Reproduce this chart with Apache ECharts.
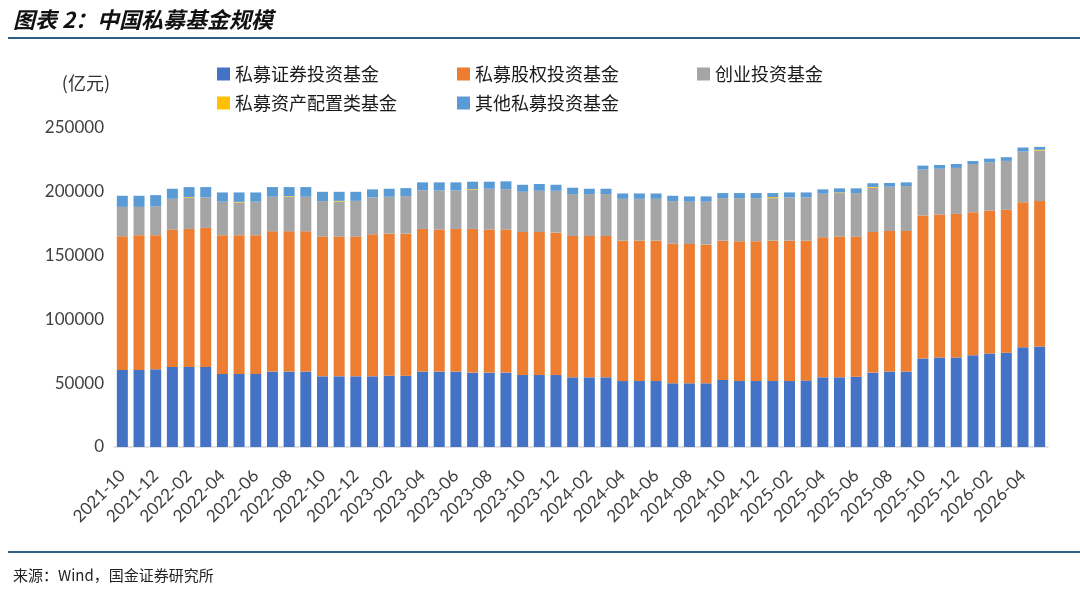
<!DOCTYPE html>
<html>
<head>
<meta charset="utf-8">
<script src="https://cdn.jsdelivr.net/npm/echarts@6/dist/echarts.min.js"></script>
<style>
html,body{margin:0;padding:0;background:#fff;}
#chart{width:1080px;height:593px;}
</style>
</head>
<body>
<div id="chart"></div>
<script>
// Months 2021-10 .. 2026-05
const months = [
 '2021-10','2021-11','2021-12','2022-01','2022-02','2022-03','2022-04','2022-05','2022-06','2022-07','2022-08','2022-09',
 '2022-10','2022-11','2022-12','2023-01','2023-02','2023-03','2023-04','2023-05','2023-06','2023-07','2023-08','2023-09',
 '2023-10','2023-11','2023-12','2024-01','2024-02','2024-03','2024-04','2024-05','2024-06','2024-07','2024-08','2024-09',
 '2024-10','2024-11','2024-12','2025-01','2025-02','2025-03','2025-04','2025-05','2025-06','2025-07','2025-08','2025-09',
 '2025-10','2025-11','2025-12','2026-01','2026-02','2026-03','2026-04','2026-05'
];
const seriesNames = ['私募证券投资基金','私募股权投资基金','创业投资基金','私募资产配置类基金','其他私募投资基金'];
const securities = [60400,60400,60900,62700,62700,62700,57200,57200,57200,59100,59100,59100,
 55400,55400,55400,55400,55900,55900,59100,59100,59100,58300,58300,58300,
 56400,56400,56400,54600,54600,54600,51700,51700,51700,49900,49900,49900,
 52500,51700,51700,51700,51700,52200,54600,54600,55100,58300,59100,59100,
 69300,70100,70100,71900,73200,73800,78200,78800];
const equity = [104700,105600,105100,107700,108200,109000,108800,108800,108800,109900,109900,109900,
 109500,109500,109500,111300,111300,111300,111800,111300,111800,112600,112100,112100,
 112100,112100,111600,110800,110800,110800,110000,110000,110000,109400,109200,108700,
 109200,109500,109500,110000,110000,109500,109700,110300,109800,110200,110200,110200,
 112100,112100,112600,112100,112100,112100,113700,113900];
const venture = [23100,22200,22700,24100,24400,23900,26200,25600,26200,27100,27100,27100,
 27800,27500,28000,28900,28900,29400,30200,30700,30200,30700,32000,31700,
 31500,32300,32800,32800,32800,32800,32800,32800,32800,33400,33100,33600,
 33300,33800,33800,33300,33900,33900,34200,34100,34100,34700,34700,35200,
 36000,35900,36000,37800,37600,38300,39600,39600];
const assetAlloc = [0,0,0,0,500,0,0,500,0,0,500,0,
 0,500,0,0,0,0,0,0,0,500,0,0,
 0,0,0,0,0,0,0,0,0,0,0,0,
 0,0,0,800,0,0,0,500,0,600,0,0,
 0,0,0,0,0,0,0,600];
const others = [8700,8700,8700,7900,7900,8100,7300,7400,7300,7600,7100,7600,
 7300,7100,7100,6300,6300,6300,6300,6300,6300,5800,5500,6100,
 5500,5300,4700,5000,4200,4200,4200,4200,4200,4200,4200,4200,
 4000,4000,4000,3200,3900,3900,3400,3200,3700,2900,2900,2900,
 3100,2900,3100,2300,3100,2900,3200,2300];
const yTicks = [0,50000,100000,150000,200000,250000];
const colors = ['#4472C4','#ED7D31','#A5A5A5','#FFC000','#5B9BD5'];
const dataSets = [securities, equity, venture, assetAlloc, others];

const chart = echarts.init(document.getElementById('chart'), null, {renderer:'canvas'});
const legendText = {fontSize:18, color:'#1a1a1a', fontFamily:'"Noto Sans CJK SC"'};
const option = {
  animation:false,
  backgroundColor:'#fff',
  title:[
    {text:'图表 2：中国私募基金规模', left:8, top:4,
     textStyle:{fontSize:22, fontWeight:'bold', fontStyle:'italic', color:'#111', fontFamily:'"Noto Sans CJK SC"'}},
    {text:'来源：Wind，国金证券研究所', left:8, top:563,
     textStyle:{fontSize:15, fontWeight:'normal', color:'#222', fontFamily:'"Noto Sans CJK SC"'}}
  ],
  graphic:[
    {type:'line', shape:{x1:8,y1:38,x2:1080,y2:38}, style:{stroke:'#2E5E86', lineWidth:2}},
    {type:'line', shape:{x1:8,y1:552,x2:1080,y2:552}, style:{stroke:'#2E5E86', lineWidth:2}}
  ],
  legend:[
    {data:seriesNames.slice(0,3), left:212, top:60, itemWidth:13, itemHeight:13, itemGap:78,
     icon:'rect', textStyle:legendText, selectedMode:false},
    {data:seriesNames.slice(3), left:212, top:89, itemWidth:13, itemHeight:13, itemGap:60,
     icon:'rect', textStyle:legendText, selectedMode:false}
  ],
  grid:{left:114, right:32, top:128, bottom:146, containLabel:false},
  xAxis:{
    type:'category', data:months,
    axisLine:{lineStyle:{color:'#d9d9d9', width:1.5}},
    axisTick:{show:false},
    axisLabel:{interval:1, rotate:45, fontSize:17, color:'#404040', fontFamily:'Lato', margin:26}
  },
  yAxis:{
    type:'value', min:0, max:250000, interval:50000,
    name:'(亿元)', nameLocation:'end', nameGap:36,
    nameTextStyle:{fontSize:18, color:'#333', align:'right', fontFamily:'"Noto Sans CJK SC"', padding:[0,4,0,0]},
    axisLine:{show:false}, axisTick:{show:false}, splitLine:{show:false},
    axisLabel:{fontSize:17, color:'#404040', fontFamily:'Lato', margin:10,
      formatter:function(v){return yTicks.indexOf(v)>=0 ? String(v) : '';}}
  },
  series: seriesNames.map(function(n,i){
    return {name:n, type:'bar', stack:'total', data:dataSets[i], barWidth:11,
      itemStyle:{color:colors[i]}, emphasis:{disabled:true}};
  })
};
chart.setOption(option);
</script>
</body>
</html>
